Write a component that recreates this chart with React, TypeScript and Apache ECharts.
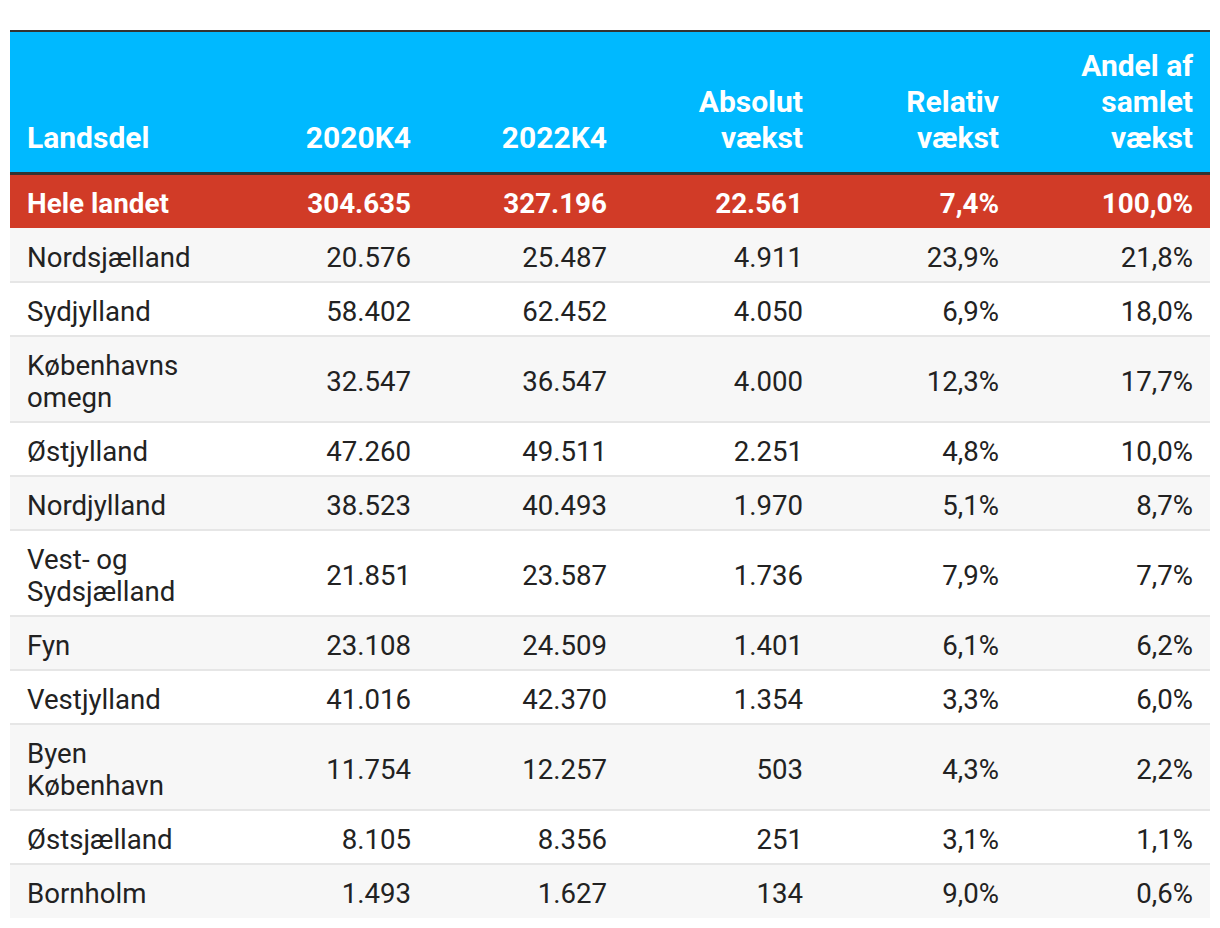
import React, { useEffect, useRef } from "react";
import * as echarts from "echarts";

const headers = ["Landsdel", "2020K4", "2022K4", "Absolut\nvækst", "Relativ\nvækst", "Andel af\nsamlet\nvækst"];
const totalLabel = "Hele landet";
const totalValues = [304635, 327196, 22561];
const totalRel = 7.4;
const totalShare = 100.0;
const regions = [
  "Nordsjælland",
  "Sydjylland",
  "Københavns\nomegn",
  "Østjylland",
  "Nordjylland",
  "Vest- og\nSydsjælland",
  "Fyn",
  "Vestjylland",
  "Byen\nKøbenhavn",
  "Østsjælland",
  "Bornholm",
];
const v2020 = [20576, 58402, 32547, 47260, 38523, 21851, 23108, 41016, 11754, 8105, 1493];
const v2022 = [25487, 62452, 36547, 49511, 40493, 23587, 24509, 42370, 12257, 8356, 1627];
const absGrowth = [4911, 4050, 4000, 2251, 1970, 1736, 1401, 1354, 503, 251, 134];
const relGrowth = [23.9, 6.9, 12.3, 4.8, 5.1, 7.9, 6.1, 3.3, 4.3, 3.1, 9.0];
const shareGrowth = [21.8, 18.0, 17.7, 10.0, 8.7, 7.7, 6.2, 6.0, 2.2, 1.1, 0.6];

const fmtInt = (v: number) => String(Math.round(v)).replace(/\B(?=(\d{3})+(?!\d))/g, ".");
const fmtPct = (v: number) => v.toFixed(1).replace(".", ",") + "%";

export default function App() {
  const ref = useRef<HTMLDivElement>(null);
  useEffect(() => {
    document.body.style.margin = "0";
    const chart = echarts.init(ref.current!, null, { renderer: "svg" });
    const FONT = "Roboto";
    const left = 10;
    const right = 1210;
    const width = right - left;
    const colRight = [0, 411, 607, 803, 999, 1193];
    const textX = 27;
    const els: any[] = [];

    // header
    const headTop = 32;
    const headBottom = 172;
    els.push({ type: "rect", shape: { x: left, y: 30, width, height: 2 }, style: { fill: "#333333" } });
    els.push({ type: "rect", shape: { x: left, y: headTop, width, height: headBottom - headTop }, style: { fill: "#00B9FF" } });
    headers.forEach((h, i) => {
      els.push({
        type: "text",
        x: i === 0 ? textX : colRight[i],
        y: 155,
        style: {
          text: h,
          fill: "#ffffff",
          fontFamily: FONT,
          fontSize: 30,
          fontWeight: "bold",
          lineHeight: 36,
          align: i === 0 ? "left" : "right",
          verticalAlign: "bottom",
        },
      });
    });
    els.push({ type: "rect", shape: { x: left, y: headBottom, width, height: 3 }, style: { fill: "#333333" } });

    // total row
    const totTop = 175;
    const totH = 53;
    els.push({ type: "rect", shape: { x: left, y: totTop, width, height: totH }, style: { fill: "#D13B27" } });
    const totTexts = [totalLabel, ...totalValues.map(fmtInt), fmtPct(totalRel), fmtPct(totalShare)];
    totTexts.forEach((t, i) => {
      els.push({
        type: "text",
        x: i === 0 ? textX : colRight[i],
        y: totTop + totH / 2 + 1.5,
        style: {
          text: t,
          fill: "#ffffff",
          fontFamily: FONT,
          fontSize: 27.8,
          fontWeight: "bold",
          align: i === 0 ? "left" : "right",
          verticalAlign: "middle",
        },
      });
    });

    // body rows
    let y = 228;
    regions.forEach((r, k) => {
      const lines = r.split("\n").length;
      const h = lines > 1 ? 86 : 54;
      if (k % 2 === 0) {
        els.push({ type: "rect", shape: { x: left, y, width, height: h }, style: { fill: "#F7F7F7" } });
      }
      if (k > 0) {
        els.push({ type: "rect", shape: { x: left, y: y - 1, width, height: 2 }, style: { fill: "#E6E6E6" } });
      }
      const cy = y + h / 2 + 2.5;
      const cells = [r, fmtInt(v2020[k]), fmtInt(v2022[k]), fmtInt(absGrowth[k]), fmtPct(relGrowth[k]), fmtPct(shareGrowth[k])];
      cells.forEach((t, i) => {
        els.push({
          type: "text",
          x: i === 0 ? textX : colRight[i],
          y: cy,
          style: {
            text: t,
            fill: "#222222",
            fontFamily: FONT,
            fontSize: 27.6,
            lineHeight: 32,
            align: i === 0 ? "left" : "right",
            verticalAlign: "middle",
          },
        });
      });
      y += h;
    });

    chart.setOption({ animation: false, graphic: { elements: els } });
    return () => chart.dispose();
  }, []);
  return <div ref={ref} style={{ width: 1220, height: 928 }} />;
}
